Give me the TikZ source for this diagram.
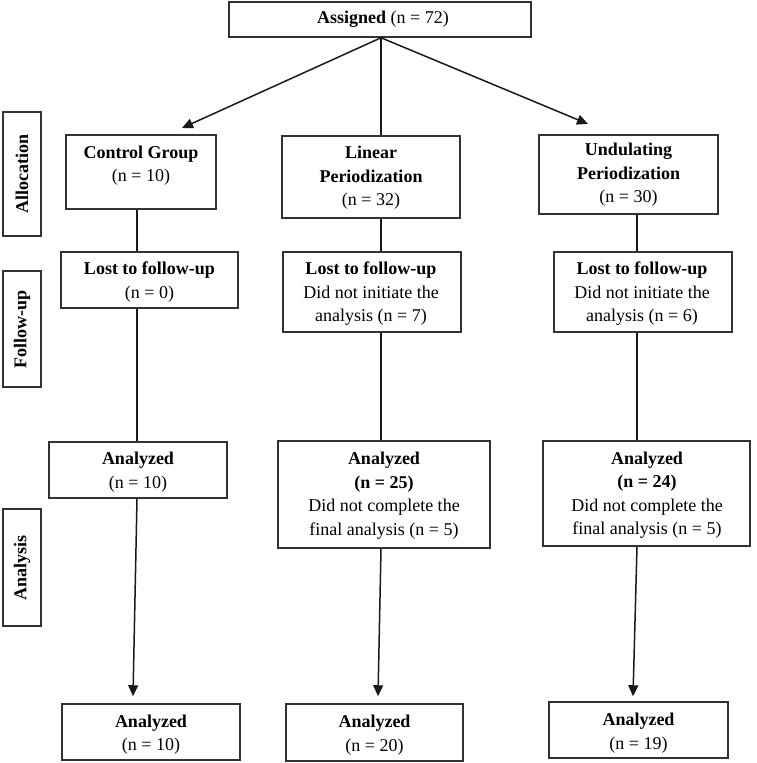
\documentclass[tikz,border=0pt]{standalone}
\usepackage{fontspec}
\setmainfont{Liberation Serif}
\usetikzlibrary{arrows.meta}
\begin{document}
\begin{tikzpicture}[x=1pt,y=-1pt,
  font=\fontsize{18}{23.5}\selectfont,
  box/.style={draw=black!80, line width=1.5pt, inner sep=0pt},
  txt/.style={align=center, inner sep=0pt},
  lbl/.style={txt, rotate=90, font=\fontsize{18}{23.5}\selectfont\bfseries},
  conn/.style={line width=1.5pt, draw=black!90},
  arr/.style={conn, -{Triangle[length=11pt,width=10pt]}}]
\useasboundingbox (0,0) rectangle (756,763);
\fill[white] (0,0) rectangle (756,763);

% side labels
\node[box, minimum width=38pt, minimum height=124pt] (alloc) at (22,174) {};
\node[lbl] (allocT) at (22,174) {Allocation};
\node[box, minimum width=38pt, minimum height=116pt] (fup) at (22,329) {};
\node[lbl] (fupT) at (22,329) {Follow-up};
\node[box, minimum width=38pt, minimum height=117pt] (anl) at (22,567.5) {};
\node[lbl] (anlT) at (22,567.5) {Analysis};

% top
\node[box, minimum width=302pt, minimum height=35pt] (assigned) at (380,19.5) {};
\node[txt] (assignedT) at (383,19) {\textbf{Assigned} (n = 72)};

% allocation row
\node[box, minimum width=150pt, minimum height=74pt] (ctrl) at (141,172) {};
\node[txt] (ctrlT) at (141,165.5) {\textbf{Control Group}\\(n = 10)};
\node[box, minimum width=178pt, minimum height=82pt] (lin) at (371,177) {};
\node[txt] (linT) at (371,178) {\textbf{Linear}\\\textbf{Periodization}\\(n = 32)};
\node[box, minimum width=179pt, minimum height=79pt] (und) at (628.5,174.5) {};
\node[txt] (undT) at (628.5,175) {\textbf{Undulating}\\\textbf{Periodization}\\(n = 30)};

% follow-up row
\node[box, minimum width=177pt, minimum height=56pt] (lostA) at (149.5,280) {};
\node[txt] (lostAT) at (149.5,282) {\textbf{Lost to follow-up}\\(n = 0)};
\node[box, minimum width=178pt, minimum height=80pt] (lostB) at (372,292) {};
\node[txt] (lostBT) at (371,294) {\textbf{Lost to follow-up}\\Did not initiate the\\analysis (n = 7)};
\node[box, minimum width=178pt, minimum height=80pt] (lostC) at (643,292) {};
\node[txt] (lostCT) at (642,294) {\textbf{Lost to follow-up}\\Did not initiate the\\analysis (n = 6)};

% analysis row
\node[box, minimum width=178pt, minimum height=56pt] (anA) at (138,470) {};
\node[txt] (anAT) at (138,472) {\textbf{Analyzed}\\(n = 10)};
\node[box, minimum width=212pt, minimum height=107pt] (anB) at (384,494.5) {};
\node[txt] (anBT) at (384,495.5) {\textbf{Analyzed}\\\textbf{(n = 25)}\\Did not complete the\\final analysis (n = 5)};
\node[box, minimum width=207pt, minimum height=105pt] (anC) at (646.5,493.5) {};
\node[txt] (anCT) at (647,495) {\textbf{Analyzed}\\\textbf{(n = 24)}\\Did not complete the\\final analysis (n = 5)};

% bottom row
\node[box, minimum width=178pt, minimum height=56pt] (botA) at (151,732) {};
\node[txt] (botAT) at (151,734.5) {\textbf{Analyzed}\\(n = 10)};
\node[box, minimum width=177pt, minimum height=57pt] (botB) at (374.5,732.5) {};
\node[txt] (botBT) at (374.5,735) {\textbf{Analyzed}\\(n = 20)};
\node[box, minimum width=179pt, minimum height=56pt] (botC) at (638.5,730) {};
\node[txt] (botCT) at (638.5,733) {\textbf{Analyzed}\\(n = 19)};

% column coordinates
\coordinate (colA) at (137,0);
\coordinate (colA2) at (133,0);
\coordinate (colB) at (381,0);
\coordinate (colB2) at (378,0);
\coordinate (colC) at (637,0);
\coordinate (colC2) at (633,0);
\coordinate (tipL) at (182,128);
\coordinate (tipR) at (588,124);

% connectors
\draw[arr] (assigned.south -| colB) -- (tipL);
\draw[arr] (assigned.south -| colB) -- (tipR);
\draw[conn] (assigned.south -| colB) -- (lin.north -| colB);

\draw[conn] (ctrl.south -| colA) -- (lostA.north -| colA);
\draw[conn] (lostA.south -| colA) -- (anA.north -| colA);
\draw[arr] (anA.south -| colA) -- ([yshift=7pt]botA.north -| colA2);

\draw[conn] (lin.south -| colB) -- (lostB.north -| colB);
\draw[conn] (lostB.south -| colB) -- (anB.north -| colB);
\draw[arr] (anB.south -| colB) -- ([yshift=7pt]botB.north -| colB2);

\draw[conn] (und.south -| colC) -- (lostC.north -| colC);
\draw[conn] (lostC.south -| colC) -- (anC.north -| colC);
\draw[arr] (anC.south -| colC) -- ([yshift=5pt]botC.north -| colC2);
\end{tikzpicture}
\end{document}
